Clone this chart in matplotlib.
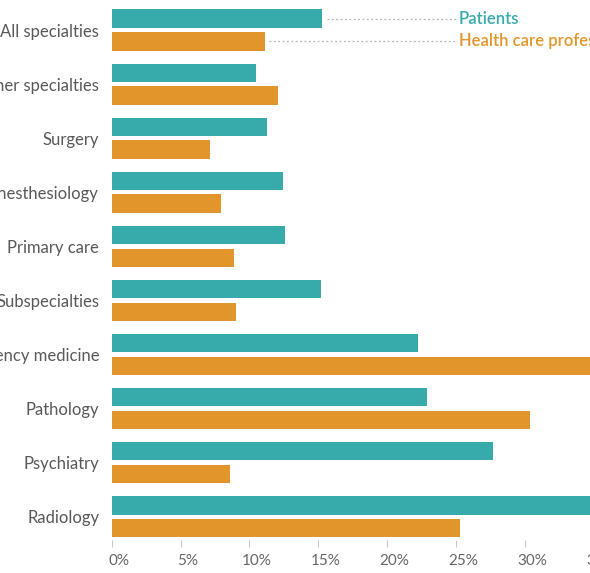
"""
Share of specialties: patients vs health care professionals (cropped view).
"""

import matplotlib
matplotlib.use("Agg")
import matplotlib.pyplot as plt
import matplotlib.transforms as mtransforms
import numpy as np

specialties = [
    "All specialties", "Other specialties", "Surgery", "Anesthesiology",
    "Primary care", "Subspecialties", "Emergency medicine", "Pathology",
    "Psychiatry", "Radiology",
]
patients = [15.3, 10.5, 11.3, 12.4, 12.6, 15.2, 22.2, 22.9, 27.7, 36.0]
professionals = [11.1, 12.1, 7.1, 7.9, 8.9, 9.0, 37.0, 30.4, 8.6, 25.3]
x_ticks = [0, 5, 10, 15, 20, 25, 30, 35]

TEAL = "#37aaab"
ORANGE = "#e2952a"

plt.rcParams["font.family"] = ["Lato", "DejaVu Sans"]

fig = plt.figure(figsize=(5.9, 5.73), dpi=100)
# axes runs past the right edge of the figure, like the cropped original
ax = fig.add_axes([0.1893, 0.0576, 0.934, 0.9424])

y = np.arange(len(specialties))
h = 0.34
off = 0.21
ax.barh(y - off, patients, height=h, color=TEAL)
ax.barh(y + off, professionals, height=h, color=ORANGE)

# legend text with dotted leader lines from the first group
lx = 25.2
ax.plot([patients[0] + 0.3, lx - 0.2], [y[0] - off] * 2, ls=(0, (1.5, 2)),
        color="#b5b5b5", lw=0.9)
ax.plot([professionals[0] + 0.3, lx - 0.2], [y[0] + off] * 2, ls=(0, (1.5, 2)),
        color="#b5b5b5", lw=0.9)
ax.text(lx, y[0] - off, "Patients", color=TEAL, fontsize=12,
        fontweight="semibold", va="center", ha="left")
ax.text(lx, y[0] + off, "Health care professionals", color=ORANGE,
        fontsize=12, fontweight="semibold", va="center", ha="left")

ax.set_xlim(0, 40)
ax.set_ylim(9.43, -0.555)
ax.set_xticks(x_ticks)
ax.set_xticklabels([f"{t}%" for t in x_ticks])
ax.set_yticks(y)
ax.set_yticklabels(specialties)

ax.tick_params(axis="y", length=0, pad=9, labelsize=12, labelcolor="#595959")
ax.tick_params(axis="x", length=5, width=0.8, color="#c8c8c8", pad=5,
               labelsize=11, labelcolor="#666666")
# x labels sit a little to the right of their ticks
shift = mtransforms.ScaledTranslation(5 / 72, 0, fig.dpi_scale_trans)
for lab in ax.get_xticklabels():
    lab.set_transform(lab.get_transform() + shift)
for s in ax.spines.values():
    s.set_visible(False)

fig.savefig("out.png", dpi=100)
